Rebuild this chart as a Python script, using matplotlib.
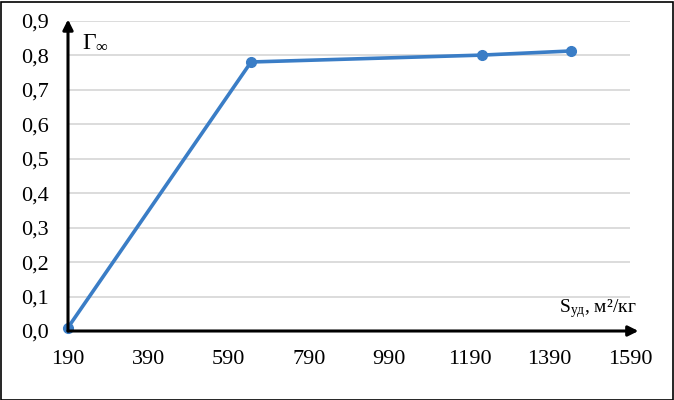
import matplotlib
matplotlib.use("Agg")
import matplotlib.pyplot as plt
from matplotlib.patches import Rectangle

plt.rcParams["font.family"] = ["Liberation Serif", "DejaVu Serif"]
plt.rcParams["mathtext.fontset"] = "custom"
plt.rcParams["mathtext.rm"] = "Liberation Serif"
plt.rcParams["mathtext.it"] = "Liberation Serif:italic"

# data
s_ud = [190, 646, 1221, 1443]
gamma_inf = [0.01, 0.781, 0.801, 0.813]
x_ticks = [190, 390, 590, 790, 990, 1190, 1390, 1590]
y_ticks = [0.0, 0.1, 0.2, 0.3, 0.4, 0.5, 0.6, 0.7, 0.8, 0.9]

BLUE = "#3A7DC6"

fig = plt.figure(figsize=(6.74, 4.0), dpi=100)
ax = fig.add_axes([68 / 674, 69 / 400, 562 / 674, 310 / 400])

ax.plot(s_ud, gamma_inf, color=BLUE, lw=2.6, marker="o", ms=7,
        zorder=3, clip_on=False)

ax.set_xlim(190, 1590)
ax.set_ylim(0, 0.9)
ax.set_xticks(x_ticks)
ax.set_yticks(y_ticks)
ax.set_yticklabels([f"{v:.1f}".replace(".", ",") for v in y_ticks])
ax.tick_params(length=0, labelsize=16)
ax.tick_params(axis="x", pad=14)
ax.tick_params(axis="y", pad=14)
for sp in ax.spines.values():
    sp.set_visible(False)
ax.grid(axis="y", color="#d9d9d9", lw=1.3)
ax.set_axisbelow(True)

# arrow axes
arrow = dict(arrowstyle="-|>", color="black", lw=2.2, mutation_scale=15,
             shrinkA=0, shrinkB=0)
ax.annotate("", xy=(1.015, 0), xytext=(0, 0), xycoords="axes fraction",
            arrowprops=arrow, annotation_clip=False)
ax.annotate("", xy=(0, 1.005), xytext=(0, 0), xycoords="axes fraction",
            arrowprops=arrow, annotation_clip=False)

ax.text(0.025, 0.965, r"$\mathrm{\Gamma}_{\infty}$", transform=ax.transAxes,
        fontsize=17, va="top", ha="left")
ax.text(1.012, 0.035, r"$\mathrm{S}_{\mathrm{уд}}$, м²/кг", transform=ax.transAxes,
        fontsize=14, va="bottom", ha="right")

fig.patches.append(Rectangle((0.5 / 674, 0.5 / 400), 672 / 674, 398 / 400,
                             transform=fig.transFigure, fill=False,
                             edgecolor="black", lw=1.2))

fig.savefig("out.png", dpi=100)
